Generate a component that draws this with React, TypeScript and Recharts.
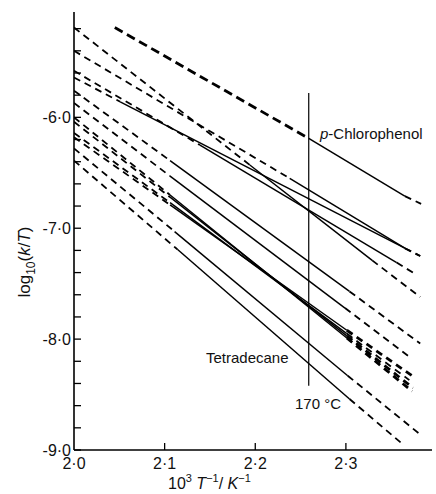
import React from 'react'
import { LineChart, Line, XAxis, YAxis } from 'recharts'

// Arrhenius lines, each as [start, solid start, solid end, end]
const pChlorophenol = [[2.045, -5.19], [2.259, -6.19], [2.365, -6.71], [2.383, -6.78]]
const lineB = [[2.0, -5.4], [2.238, -6.55], [2.365, -7.18], [2.382, -7.25]]
const lineC = [[2.0, -5.19], [2.194, -6.43], [2.329, -7.29], [2.382, -7.62]]
const lineD = [[2.0, -5.58], [2.139, -6.25], [2.356, -7.31], [2.376, -7.41]]
const lineE = [[2.0, -5.64], [2.051, -5.86], [2.365, -7.18], [2.382, -7.25]]
const lineF = [[2.0, -5.76], [2.106, -6.39], [2.304, -7.57], [2.382, -8.04]]
const lineG = [[2.0, -5.87], [2.106, -6.53], [2.299, -7.72], [2.370, -8.16]]
const lineH = [[2.0, -6.0], [2.106, -6.7], [2.301, -7.99], [2.373, -8.47]]
const lineI = [[2.0, -6.04], [2.106, -6.72], [2.301, -7.97], [2.374, -8.44]]
const lineJ = [[2.0, -6.14], [2.106, -6.77], [2.301, -7.95], [2.370, -8.37]]
const lineK = [[2.0, -6.18], [2.106, -6.79], [2.301, -7.92], [2.373, -8.33]]
const lineL = [[2.0, -6.28], [2.111, -7.03], [2.302, -8.33], [2.382, -8.86]]
const tetradecane = [[2.0, -6.39], [2.114, -7.19], [2.304, -8.54], [2.363, -8.95]]

// 170 °C marker
const isotherm = [[2.259, -5.78], [2.259, -8.42]]

const xTicks = [2.0, 2.1, 2.2, 2.3]
const yTicks = [-9.0, -8.8, -8.6, -8.4, -8.2, -8.0, -7.8, -7.6, -7.4, -7.2, -7.0, -6.8, -6.6, -6.4, -6.2, -6.0, -5.8, -5.6, -5.4, -5.2]

const curves = [
  { name: 'pcl', pts: pChlorophenol, heavyLeft: true, heavyRight: false },
  { name: 'b', pts: lineB, heavyLeft: false, heavyRight: false },
  { name: 'c', pts: lineC, heavyLeft: false, heavyRight: false },
  { name: 'd', pts: lineD, heavyLeft: false, heavyRight: false },
  { name: 'e', pts: lineE, heavyLeft: false, heavyRight: false },
  { name: 'f', pts: lineF, heavyLeft: false, heavyRight: false },
  { name: 'g', pts: lineG, heavyLeft: false, heavyRight: false },
  { name: 'h', pts: lineH, heavyLeft: false, heavyRight: true },
  { name: 'i', pts: lineI, heavyLeft: false, heavyRight: true },
  { name: 'j', pts: lineJ, heavyLeft: false, heavyRight: false },
  { name: 'k', pts: lineK, heavyLeft: false, heavyRight: true },
  { name: 'l', pts: lineL, heavyLeft: false, heavyRight: false },
  { name: 'tetradecane', pts: tetradecane, heavyLeft: false, heavyRight: false },
]

const FONT = '"Liberation Sans", Arial, sans-serif'
const fmt = (v: number) => v.toFixed(1).replace('.', '·')

const toRows = (pts: number[][]) => pts.map(([x, y]) => ({ x, y }))

const XTick = (props: any) => {
  const { x, y, payload } = props
  const v = payload.value
  return (
    <g>
      {v > 2.0 && <line x1={x} y1={y} x2={x} y2={y - 7} stroke="#000" strokeWidth={1.3} />}
      <text x={x} y={y + 19} textAnchor="middle" fontSize={16} fontFamily={FONT} fill="#111">
        {fmt(v)}
      </text>
    </g>
  )
}

const YTick = (props: any) => {
  const { x, y, payload } = props
  const v = payload.value
  const major = Math.abs(v - Math.round(v)) < 1e-6
  return (
    <g>
      <line x1={x} y1={y} x2={x + 7} y2={y} stroke="#000" strokeWidth={1.3} />
      {major && (
        <text x={x - 3} y={y + 6} textAnchor="end" fontSize={16} fontFamily={FONT} fill="#111">
          {'-' + fmt(Math.abs(v))}
        </text>
      )}
    </g>
  )
}

export default function App() {
  const series: React.ReactNode[] = []
  curves.forEach((c) => {
    const rows = toRows(c.pts)
    series.push(
      <Line key={c.name + '-l'} data={rows.slice(0, 2)} dataKey="y" type="linear" dot={false}
        stroke="#000" strokeWidth={c.heavyLeft ? 2.8 : 1.8} strokeDasharray={c.heavyLeft ? '9 5' : '7 5'}
        isAnimationActive={false} />
    )
    series.push(
      <Line key={c.name + '-s'} data={rows.slice(1, 3)} dataKey="y" type="linear" dot={false}
        stroke="#000" strokeWidth={1.5} isAnimationActive={false} />
    )
    series.push(
      <Line key={c.name + '-r'} data={rows.slice(2, 4)} dataKey="y" type="linear" dot={false}
        stroke="#000" strokeWidth={c.heavyRight ? 2.8 : 1.8} strokeDasharray="7 5"
        isAnimationActive={false} />
    )
  })

  return (
    <div style={{ position: 'relative', width: 436, height: 494, background: '#fff' }}>
      <style>{'body{margin:0}'}</style>
      <LineChart width={436} height={494} margin={{ top: 12, right: 4, left: 0, bottom: 0 }}>
        <XAxis
          type="number"
          dataKey="x"
          domain={[2.0, 2.395]}
          ticks={xTicks}
          interval={0}
          height={44}
          tickSize={0}
          tickMargin={0}
          tickLine={false}
          tick={<XTick />}
          axisLine={{ stroke: '#000', strokeWidth: 1.6 }}
          allowDataOverflow
        />
        <YAxis
          type="number"
          dataKey="y"
          domain={[-9.0, -5.05]}
          ticks={yTicks}
          interval={0}
          width={74}
          tickSize={0}
          tickMargin={0}
          tickLine={false}
          tick={<YTick />}
          axisLine={{ stroke: '#000', strokeWidth: 1.6 }}
          allowDataOverflow
        />
        {series}
        <Line data={toRows(isotherm)} dataKey="y" type="linear" dot={false} stroke="#000"
          strokeWidth={1.2} isAnimationActive={false} />
      </LineChart>
      <svg width={436} height={494} style={{ position: 'absolute', left: 0, top: 0, pointerEvents: 'none' }}>
        <g fontFamily={FONT} fill="#111">
          <text x={320} y={139} fontSize={15}>
            <tspan fontStyle="italic">p</tspan>-Chlorophenol
          </text>
          <text x={206} y={363} fontSize={15}>Tetradecane</text>
          <text x={295} y={409} fontSize={15}>170 °C</text>
          <text x={168} y={489} fontSize={16}>
            10<tspan dy={-7} fontSize={11}>3</tspan>
            <tspan dy={7} fontStyle="italic"> T</tspan>
            <tspan dy={-7} fontSize={11}>−1</tspan>
            <tspan dy={7}>/ </tspan>
            <tspan fontStyle="italic">K</tspan>
            <tspan dy={-7} fontSize={11}>−1</tspan>
          </text>
          <text x={30} y={262} fontSize={17} textAnchor="middle" transform="rotate(-90 30 262)">
            log<tspan dy={5} fontSize={12}>10</tspan>
            <tspan dy={-5}>(</tspan>
            <tspan fontStyle="italic">k</tspan>/<tspan fontStyle="italic">T</tspan>)
          </text>
        </g>
      </svg>
    </div>
  )
}
